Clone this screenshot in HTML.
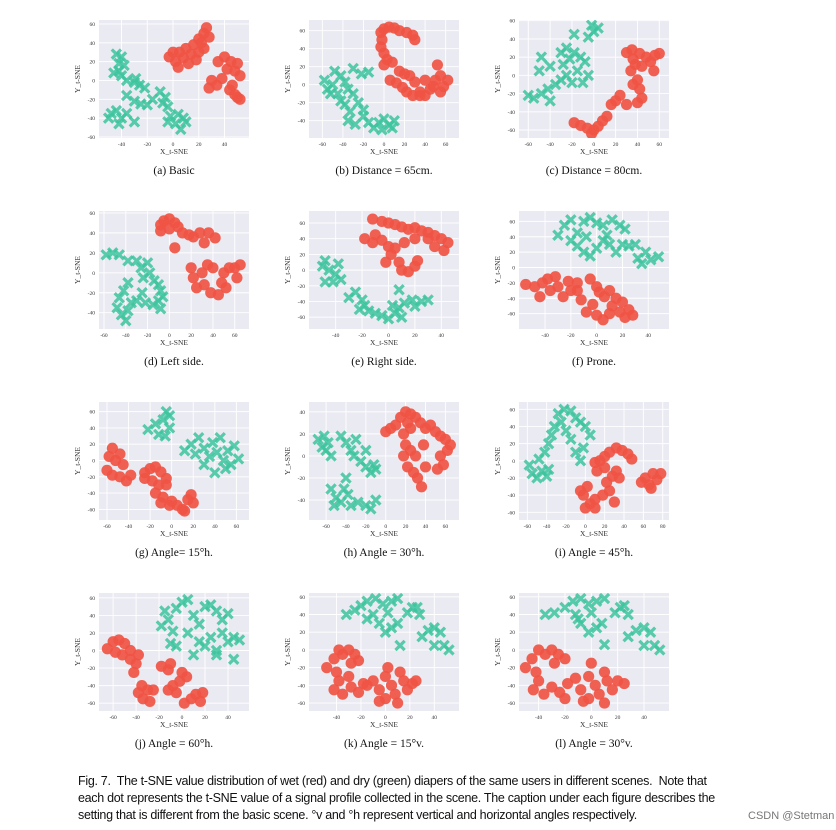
<!DOCTYPE html>
<html><head><meta charset="utf-8"><style>
html,body{margin:0;padding:0;background:#fff;}
#wrap{position:relative;width:836px;height:830px;overflow:hidden;}
.cap{position:absolute;left:78px;font-family:"Liberation Sans",sans-serif;font-size:12.5px;color:#111;white-space:nowrap;letter-spacing:-0.3px;}
</style></head><body>
<div id="wrap">
<svg id="fig" width="836" height="765" style="position:absolute;left:0;top:0"></svg>
<div class="cap" style="top:774px">Fig. 7.&nbsp; The t-SNE value distribution of wet (red) and dry (green) diapers of the same users in different scenes.&nbsp; Note that</div>
<div class="cap" style="top:791px">each dot represents the t-SNE value of a signal profile collected in the scene. The caption under each figure describes the</div>
<div class="cap" style="top:808px">setting that is different from the basic scene. °v and °h represent vertical and horizontal angles respectively.</div>
<div style="position:absolute;left:748px;top:810px;font-family:'Liberation Sans',sans-serif;font-size:11px;color:#777">CSDN @Stetman</div>
</div>
<script>
const captions=["(a)  Basic","(b)  Distance = 65cm.","(c)  Distance = 80cm.","(d)  Left side.","(e)  Right side.","(f)  Prone.","(g)  Angle= 15°h.","(h)  Angle = 30°h.","(i)  Angle = 45°h.","(j)  Angle = 60°h.","(k)  Angle = 15°v.","(l)  Angle = 30°v."];
const xTicks=[[-40,-20,0,20,40],[-60,-40,-20,0,20,40,60],[-60,-40,-20,0,20,40,60],[-60,-40,-20,0,20,40,60],[-40,-20,0,20,40],[-40,-20,0,20,40],[-60,-40,-20,0,20,40,60],[-60,-40,-20,0,20,40,60],[-60,-40,-20,0,20,40,60,80],[-60,-40,-20,0,20,40],[-40,-20,0,20,40],[-40,-20,0,20,40]];
const yTicks=[[-60,-40,-20,0,20,40,60],[-40,-20,0,20,40,60],[-60,-40,-20,0,20,40,60],[-40,-20,0,20,40,60],[-60,-40,-20,0,20,40,60],[-60,-40,-20,0,20,40,60],[-60,-40,-20,0,20,40,60],[-40,-20,0,20,40],[-60,-40,-20,0,20,40,60],[-60,-40,-20,0,20,40,60],[-60,-40,-20,0,20,40,60],[-60,-40,-20,0,20,40,60]];
const xLims=[[-57.5,59],[-73,73],[-68.5,68.9],[-64.6,73.1],[-60.2,53.4],[-60.2,56.1],[-67.4,71.7],[-77.2,73.7],[-68.6,86.5],[-72.3,58.3],[-62.5,60.2],[-54.9,59]];
const yLims=[[-61.1,64.2],[-59.2,71.9],[-68.8,60.8],[-56.3,61.9],[-75,75.3],[-80,73.5],[-73,71.8],[-58.1,48.9],[-69,68.5],[-68.9,65.5],[-69,64.3],[-69,64.3]];
const wetPoints=[
[[-3,25],[2,20],[5,30],[8,24],[12,18],[14,28],[10,34],[18,22],[20,30],[16,38],[20,44],[24,50],[26,56],[22,40],[28,46],[4,14],[0,30],[35,20],[40,25],[45,20],[50,18],[48,10],[42,12],[52,5],[30,0],[28,-8],[34,-5],[38,2],[44,-10],[48,-15],[52,-20],[46,-5],[50,-18],[24,34]],
[[-3,58],[0,62],[5,64],[10,63],[15,60],[22,58],[28,55],[30,50],[-2,50],[-3,42],[0,35],[3,28],[0,22],[8,25],[6,5],[12,2],[18,-3],[22,-8],[28,-12],[35,-8],[40,-12],[45,-5],[50,5],[55,10],[58,-2],[62,5],[52,22],[55,-8],[25,10],[30,3],[40,5],[15,15],[20,12],[48,-2],[35,-12]],
[[-18,-52],[-12,-55],[-6,-58],[0,-60],[4,-56],[-2,-64],[8,-50],[12,-45],[16,-32],[20,-28],[24,-22],[30,-32],[40,-30],[44,-25],[36,-10],[40,-5],[34,5],[38,12],[42,-15],[44,10],[30,25],[35,28],[42,24],[48,20],[52,15],[56,22],[60,24],[55,5],[36,18]],
[[-8,48],[-5,52],[0,54],[5,50],[-8,42],[0,44],[8,46],[12,40],[18,38],[22,36],[28,40],[32,30],[36,40],[42,35],[5,25],[20,5],[22,-5],[25,-15],[30,0],[32,-12],[38,-20],[45,-22],[48,-10],[50,0],[55,5],[60,5],[65,8],[62,-5],[40,5],[52,-15],[35,8]],
[[-12,65],[-5,62],[0,60],[5,58],[10,55],[15,52],[20,54],[25,50],[30,48],[35,44],[40,40],[45,35],[42,25],[35,30],[-18,40],[-12,35],[-10,45],[-5,38],[0,30],[2,20],[5,28],[8,10],[10,0],[15,-2],[20,5],[22,12],[-2,10],[30,40],[12,35],[20,40]],
[[-55,-22],[-48,-25],[-42,-20],[-38,-15],[-32,-12],[-30,-25],[-36,-30],[-44,-38],[-26,-38],[-20,-30],[-22,-18],[-15,-20],[-12,-42],[-5,-15],[0,-25],[2,-32],[6,-38],[10,-30],[15,-40],[20,-45],[25,-55],[28,-62],[18,-58],[10,-60],[5,-68],[0,-62],[-8,-58],[-3,-48],[12,-50],[22,-65],[-15,-30]],
[[-55,15],[-58,5],[-52,0],[-48,8],[-45,-5],[-60,-12],[-55,-18],[-48,-20],[-42,-25],[-38,-18],[-25,-15],[-20,-10],[-15,-8],[-10,-14],[-5,-22],[-18,-25],[-12,-30],[-5,-30],[-25,-22],[-8,-45],[-15,-40],[-10,-52],[-2,-55],[5,-55],[10,-60],[15,-48],[18,-42],[20,-52],[12,-62],[0,-50]],
[[0,22],[5,25],[10,28],[15,35],[20,40],[25,38],[30,35],[22,30],[18,20],[25,25],[35,30],[40,25],[45,28],[50,22],[55,18],[60,15],[65,10],[20,10],[25,5],[18,0],[22,-10],[28,-15],[32,-20],[36,-28],[30,0],[38,10],[40,-10],[55,0],[58,-8],[52,-12],[62,5]],
[[10,-2],[15,0],[20,5],[25,10],[32,15],[38,12],[44,8],[48,2],[12,-12],[20,-8],[22,-25],[28,-18],[32,-12],[35,-20],[25,-35],[18,-40],[10,-45],[5,-50],[0,-55],[-2,-40],[2,-30],[-5,-35],[10,-55],[30,-48],[58,-25],[62,-20],[66,-28],[70,-15],[74,-22],[78,-15],[68,-32]],
[[-65,2],[-60,10],[-55,12],[-50,8],[-45,0],[-58,-2],[-52,-5],[-45,-10],[-40,-15],[-38,-5],[-42,-25],[-35,-40],[-30,-45],[-34,-55],[-28,-58],[-38,-48],[-25,-45],[-18,-18],[-12,-22],[-10,-15],[-8,-40],[-2,-35],[0,-25],[4,-30],[-5,-48],[2,-60],[8,-55],[12,-50],[18,-48],[16,-58],[-12,-45]],
[[-48,-20],[-42,-10],[-38,0],[-35,-5],[-30,0],[-25,-5],[-22,-12],[-28,-15],[-40,-25],[-38,-35],[-42,-45],[-35,-50],[-28,-42],[-22,-48],[-18,-38],[-15,-40],[-10,-35],[-5,-45],[0,-30],[2,-20],[5,-40],[8,-50],[10,-60],[15,-35],[18,-45],[22,-38],[25,-35],[0,-55],[-5,-58],[12,-25],[-30,-30]],
[[-50,-20],[-45,-10],[-40,0],[-35,-5],[-30,0],[-25,-5],[-20,-10],[-28,-15],[-42,-25],[-40,-35],[-44,-45],[-36,-50],[-30,-42],[-24,-48],[-20,-55],[-18,-38],[-12,-32],[-8,-45],[-2,-30],[0,-15],[3,-40],[6,-50],[10,-60],[12,-35],[16,-45],[20,-35],[25,-38],[-2,-55],[-6,-58],[10,-25]]
];
const dryPoints=[
[[-44,28],[-40,25],[-42,18],[-38,16],[-46,8],[-40,5],[-36,0],[-42,10],[-30,-2],[-26,-5],[-22,-8],[-29,2],[-10,-12],[-6,-18],[-8,-24],[-4,-28],[-36,-16],[-30,-22],[-25,-25],[-16,-20],[-20,-26],[-48,-35],[-44,-32],[-40,-40],[-36,-35],[-42,-46],[-50,-40],[-30,-44],[-2,-38],[4,-36],[8,-40],[2,-46],[6,-52],[-4,-44],[10,-44]],
[[-55,-5],[-58,5],[-50,0],[-48,15],[-42,10],[-38,3],[-30,18],[-22,12],[-15,14],[-35,-5],[-45,-10],[-30,-10],[-25,-20],[-38,-22],[-33,-30],[-20,-35],[-35,-40],[-28,-44],[-15,-42],[-10,-48],[-5,-42],[0,-38],[5,-45],[10,-40],[-2,-50],[8,-48],[-20,-28],[-42,-18],[-52,-10]],
[[-60,-22],[-55,-25],[-48,-20],[-42,-15],[-40,-28],[-35,-10],[-30,-5],[-25,0],[-28,12],[-22,18],[-30,25],[-25,30],[-18,25],[-12,20],[-8,15],[-15,5],[-5,0],[-10,-8],[-20,-8],[-40,10],[-50,5],[-48,20],[-18,45],[-5,42],[0,48],[4,52],[-2,55]],
[[-58,18],[-52,20],[-46,18],[-38,12],[-30,12],[-26,5],[-20,10],[-18,0],[-24,-5],[-14,-8],[-10,-12],[-8,-18],[-38,-10],[-42,-18],[-46,-25],[-48,-35],[-44,-42],[-40,-48],[-35,-30],[-38,-38],[-25,-20],[-22,-30],[-15,-32],[-10,-28],[-6,-24],[-8,-36],[-30,-28]],
[[-50,5],[-48,12],[-45,0],[-40,-5],[-42,-15],[-48,-15],[-36,-12],[-38,8],[-30,-35],[-25,-28],[-20,-38],[-22,-50],[-15,-52],[-10,-55],[-5,-58],[0,-62],[5,-55],[8,-48],[12,-42],[18,-38],[20,-46],[25,-40],[30,-38],[3,-45],[-18,-45],[8,-25],[10,-60]],
[[-30,42],[-25,55],[-20,62],[-10,60],[-5,65],[0,58],[5,55],[12,62],[18,55],[22,50],[-20,35],[-15,28],[-10,20],[-5,15],[0,25],[5,35],[10,30],[15,20],[20,30],[25,28],[30,30],[32,12],[38,20],[42,10],[48,14],[35,5],[-8,40],[8,42],[-15,45]],
[[-22,38],[-15,45],[-12,32],[-8,50],[-5,60],[-2,40],[-6,30],[-2,55],[12,12],[18,20],[22,8],[25,28],[30,15],[35,5],[38,22],[42,10],[45,28],[48,0],[52,12],[55,-5],[58,18],[62,2],[40,-15],[30,-5],[50,-10]],
[[-68,15],[-62,18],[-58,12],[-60,5],[-55,0],[-64,8],[-45,18],[-40,12],[-35,5],[-30,15],[-32,0],[-25,-5],[-20,-10],[-15,-15],[-12,-8],[-10,-12],[-20,5],[-40,-20],[-55,-30],[-50,-38],[-45,-42],[-38,-35],[-35,-45],[-28,-42],[-20,-45],[-15,-48],[-10,-40],[-52,-45],[-42,-30]],
[[-58,-5],[-55,-15],[-50,-20],[-45,-12],[-40,-18],[-48,2],[-42,10],[-38,20],[-35,30],[-32,40],[-28,55],[-22,60],[-15,58],[-10,50],[-5,45],[0,40],[5,30],[-20,35],[-15,25],[-10,10],[-5,0],[-2,15],[-25,45],[-38,-10]],
[[-15,45],[-18,28],[-12,35],[-8,22],[-5,48],[0,55],[5,58],[10,40],[15,30],[20,50],[25,52],[30,45],[35,35],[40,42],[15,10],[20,5],[25,15],[30,0],[35,20],[40,10],[45,15],[50,12],[-5,5],[10,-5],[45,-10],[5,20],[-10,8],[30,-5]],
[[-32,40],[-25,45],[-20,50],[-15,55],[-8,58],[-2,52],[5,55],[10,58],[-10,40],[-5,30],[2,42],[0,20],[5,25],[10,30],[12,5],[18,42],[22,48],[28,40],[26,48],[30,15],[35,22],[40,25],[45,20],[48,5],[52,0],[40,5],[-15,35]],
[[-35,40],[-28,42],[-20,48],[-14,55],[-8,58],[-2,52],[4,55],[10,58],[-12,40],[-8,30],[0,42],[-2,20],[4,25],[8,30],[10,6],[18,42],[22,48],[28,40],[25,50],[28,15],[34,22],[40,25],[45,20],[48,5],[52,0],[40,5],[-10,35]]
];
const NS="http://www.w3.org/2000/svg";
const svg=document.getElementById('fig');
const colLeft=[99,309,519], rowTop=[20,211,402,593], PW=150, PH=118;
function mk(tag,attrs,parent){const e=document.createElementNS(NS,tag);for(const k in attrs)e.setAttribute(k,attrs[k]);parent.appendChild(e);return e;}
for(let p=0;p<12;p++){
  const L=colLeft[p%3], T=rowTop[Math.floor(p/3)];
  const xl=xLims[p], yl=yLims[p];
  const sx=v=>L+(v-xl[0])/(xl[1]-xl[0])*PW;
  const sy=v=>T+PH-(v-yl[0])/(yl[1]-yl[0])*PH;
  const g=mk('g',{},svg);
  
  
  const bg=mk('rect',{x:L,y:T,width:PW,height:PH,fill:'#eaeaf2'},g);
  
  
  xTicks[p].forEach(t=>{
    const x=sx(t);
    const gl=mk('line',{x1:x,x2:x,y1:T,y2:T+PH,stroke:'#fff','stroke-width':0.9},g);
    
    
    const tx=mk('text',{x:x,y:T+PH+8,'text-anchor':'middle','font-size':5.5,fill:'#333','font-family':'Liberation Serif, serif'},g);
    tx.textContent=t;
    
    
  });
  yTicks[p].forEach(t=>{
    const y=sy(t);
    const gl=mk('line',{x1:L,x2:L+PW,y1:y,y2:y,stroke:'#fff','stroke-width':0.9},g);
    
    
    const tx=mk('text',{x:L-4,y:y+2,'text-anchor':'end','font-size':5.5,fill:'#333','font-family':'Liberation Serif, serif'},g);
    tx.textContent=t;
    
    
  });
  const clip=mk('clipPath',{id:'c'+p},g);
  mk('rect',{x:L,y:T,width:PW,height:PH},clip);
  const pts=mk('g',{'clip-path':'url(#c'+p+')'},g);
  dryPoints[p].forEach(d=>{
    const x=sx(d[0]), y=sy(d[1]), r=4.6;
    const m=mk('path',{d:`M${x-r},${y-r}L${x+r},${y+r}M${x-r},${y+r}L${x+r},${y-r}`,stroke:'#3cc49e','stroke-width':3.2,'stroke-opacity':0.85},pts);
    
    
  });
  wetPoints[p].forEach(d=>{
    const c=mk('circle',{cx:sx(d[0]),cy:sy(d[1]),r:5.6,fill:'#f05444','fill-opacity':0.92},pts);
    
    
  });
  const xlab=mk('text',{x:L+PW/2,y:T+PH+16,'text-anchor':'middle','font-size':7.5,fill:'#333','font-family':'Liberation Serif, serif'},g);
  xlab.textContent='X_t-SNE';
  
  
  const ylab=mk('text',{x:0,y:0,'text-anchor':'middle','font-size':7.5,fill:'#333','font-family':'Liberation Serif, serif',transform:`translate(${L-19},${T+PH/2}) rotate(-90)`},g);
  ylab.textContent='Y_t-SNE';
  
  
  const cap=mk('text',{x:L+PW/2,y:T+PH+36,'text-anchor':'middle','font-size':11.5,fill:'#111','font-family':'Liberation Serif, serif'},g);
  cap.textContent=captions[p];
  
  
}
</script>
</body></html>
